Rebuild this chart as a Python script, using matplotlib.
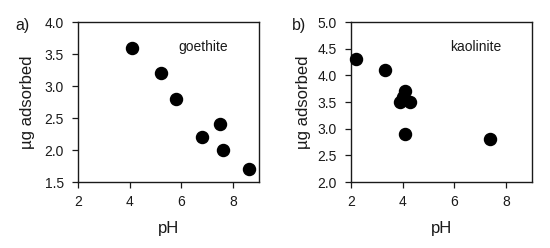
import matplotlib
matplotlib.use("Agg")
import matplotlib.pyplot as plt

plt.rcParams['font.family'] = ['Liberation Sans', 'DejaVu Sans']

goethite_ph = [4.1, 5.2, 5.8, 6.8, 7.5, 7.6, 8.6]
goethite_ug = [3.6, 3.2, 2.8, 2.2, 2.4, 2.0, 1.7]

kaolinite_ph = [2.2, 3.3, 4.1, 4.0, 3.9, 4.3, 4.1, 7.4]
kaolinite_ug = [4.3, 4.1, 3.7, 3.6, 3.5, 3.5, 2.9, 2.8]

fig = plt.figure(figsize=(5.5, 2.48), dpi=100)
ax1 = fig.add_axes([0.1418, 0.266, 0.329, 0.645])
ax2 = fig.add_axes([0.638, 0.266, 0.329, 0.645])

INK = '#1a1a1a'

def style(ax, xs, ys, ylim, yticks, name, panel, ylx, px):
    ax.scatter(xs, ys, s=75, color='black', zorder=3, clip_on=False)
    ax.set_xlim(2, 9)
    ax.set_ylim(*ylim)
    ax.set_xticks([2, 4, 6, 8])
    ax.set_yticks(yticks)
    ax.set_yticklabels([f"{v:.1f}" for v in yticks])
    ax.tick_params(direction='out', length=4, width=0.9, labelsize=10, colors=INK)
    ax.tick_params(axis='x', pad=5)
    ax.tick_params(axis='y', pad=6)
    for s in ax.spines.values():
        s.set_linewidth(1.0)
        s.set_color(INK)
    ax.set_xlabel('pH', fontsize=12, color=INK)
    ax.set_ylabel('µg adsorbed', fontsize=12, color=INK)
    ax.xaxis.set_label_coords(0.5, -0.245)
    ax.yaxis.set_label_coords(ylx, 0.5)
    ax.text(0.69, 0.845, name, transform=ax.transAxes, ha='center', va='center', fontsize=10, color=INK)
    ax.text(px, 0.98, panel, transform=ax.transAxes, ha='left', va='center', fontsize=11.5, color=INK)

style(ax1, goethite_ph, goethite_ug, (1.5, 4.0), [1.5, 2.0, 2.5, 3.0, 3.5, 4.0], 'goethite', 'a)', -0.24, -0.345)
style(ax2, kaolinite_ph, kaolinite_ug, (2.0, 5.0), [2.0, 2.5, 3.0, 3.5, 4.0, 4.5, 5.0], 'kaolinite', 'b)', -0.22, -0.325)

fig.savefig('out.png', dpi=100)
